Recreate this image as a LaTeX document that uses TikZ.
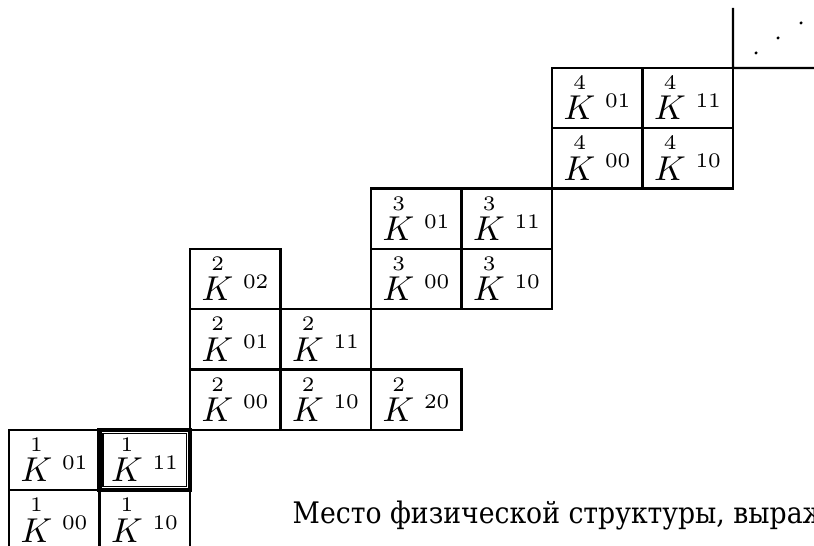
\documentclass[tikz,border=0pt]{standalone}
\usepackage{amsmath}
\usepackage{fontspec}
\newfontfamily\cyrfont{DejaVu Serif}[FakeStretch=0.9]
\usepackage{tikz}
\usepackage{xcolor}
\definecolor{gridfg}{HTML}{000000}

\newcommand{\tinydig}[1]{\text{\fontsize{6}{6}\selectfont #1}}

\tikzset{
	cell/.style={draw, line width=0.65pt, minimum width=26.245pt, minimum height=17.487pt, inner sep=0pt, outer sep=0pt},
	kname/.style={anchor=base west, inner sep=0pt}
}

\begin{document}
\begin{tikzpicture}[x=0.29pt, y=-0.29pt, gridfg]
		\useasboundingbox (0,0) rectangle (814,546);
		\clip (0,0) rectangle (814,546);

		% cells: column / row / level / index
		\foreach \col/\row/\lev/\idx in {0/6/1/01, 1/6/1/11, 0/7/1/00, 1/7/1/10,
				2/3/2/02, 2/4/2/01, 3/4/2/11, 2/5/2/00, 3/5/2/10, 4/5/2/20,
				4/2/3/01, 5/2/3/11, 4/3/3/00, 5/3/3/10,
				6/0/4/01, 7/0/4/11, 6/1/4/00, 7/1/4/10} {
				\node[cell] (c\col-\row) at ({54.25+90.5*\col},{98.15+60.3*\row}) {};
				\node[kname] (k\col-\row) at ({20+90.5*\col},{120+60.3*\row})
				{$\overset{\tinydig{\lev}}{K}\;{}^{\tinydig{\idx}}$};
			}

		% the marked cell: heavy frame with a thin inner frame
		\draw[line width=1.2pt] (c1-6.south west) rectangle (c1-6.north east);
		\draw[line width=0.4pt] ([shift={(3.5,-3.5)}]c1-6.south west) rectangle ([shift={(-3.5,3.5)}]c1-6.north east);

		% corner going on to the next levels
		\coordinate (vtop) at (733,8);
		\coordinate (hend) at (820,68);
		\draw[line width=0.65pt] (vtop) -- (c7-0.north east) -- (hend);
		\foreach \x/\y in {756/53, 778/38, 801/23} {
				\fill (\x,\y) circle (0.5pt);
			}

		% running text of the page
		\node[anchor=base west, inner sep=0pt, font=\cyrfont\fontsize{8.6}{10}\selectfont] (caption) at (292,524)
		{Место физической структуры, выраж};
	\end{tikzpicture}
\end{document}
